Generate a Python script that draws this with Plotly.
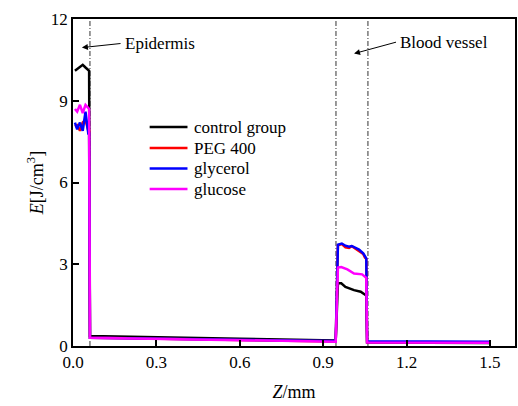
import plotly.graph_objects as go

# ---- data ----
x_ctrl = [0.007, 0.02, 0.035, 0.045, 0.055, 0.058, 0.061, 0.2, 0.4, 0.6, 0.8, 0.945, 0.953,
          0.965, 0.98, 1.011, 1.035, 1.049, 1.055, 1.058, 1.2, 1.35, 1.5]
y_ctrl = [10.1, 10.2, 10.32, 10.22, 10.15, 10.1, 0.37, 0.35, 0.31, 0.27, 0.23, 0.2, 2.3,
          2.3, 2.17, 2.05, 1.99, 1.87, 1.85, 0.13, 0.12, 0.11, 0.11]

x_peg = [0.007, 0.015, 0.025, 0.035, 0.045, 0.055, 0.058, 0.061, 0.2, 0.4, 0.6, 0.8, 0.945, 0.953,
         0.967, 0.98, 0.993, 1.003, 1.029, 1.044, 1.05, 1.055, 1.058, 1.2, 1.35, 1.5]
y_peg = [8.05, 8.1, 7.9, 8.2, 8.3, 7.9, 7.9, 0.3, 0.28, 0.25, 0.22, 0.19, 0.17, 3.7,
         3.74, 3.62, 3.6, 3.66, 3.5, 3.38, 3.25, 3.2, 0.15, 0.15, 0.14, 0.14]

x_gly = [0.007, 0.015, 0.025, 0.035, 0.045, 0.055, 0.058, 0.061, 0.2, 0.4, 0.6, 0.8, 0.945, 0.953,
         0.967, 0.98, 0.993, 1.003, 1.029, 1.044, 1.05, 1.055, 1.058, 1.2, 1.35, 1.5]
y_gly = [8.2, 7.95, 8.2, 7.9, 8.6, 7.8, 7.8, 0.3, 0.28, 0.25, 0.22, 0.19, 0.18, 3.72,
         3.76, 3.68, 3.64, 3.67, 3.54, 3.4, 3.27, 3.22, 0.17, 0.17, 0.16, 0.16]

x_glu = [0.007, 0.015, 0.025, 0.035, 0.045, 0.055, 0.058, 0.061, 0.2, 0.4, 0.6, 0.8, 0.945, 0.953,
         0.965, 0.987, 1.011, 1.04, 1.049, 1.055, 1.058, 1.2, 1.35, 1.5]
y_glu = [8.7, 8.6, 8.85, 8.55, 8.85, 8.75, 8.7, 0.3, 0.28, 0.25, 0.21, 0.18, 0.16, 2.88,
         2.9, 2.81, 2.66, 2.63, 2.54, 2.5, 0.13, 0.13, 0.12, 0.12]

series_names = ["control group", "PEG 400", "glycerol", "glucose"]
series_x = [x_ctrl, x_peg, x_gly, x_glu]
series_y = [y_ctrl, y_peg, y_gly, y_glu]
series_colors = ["#000000", "#ff0000", "#0000ff", "#ff00ff"]

vlines = [0.061, 0.946, 1.061]
x_ticks = [0.0, 0.3, 0.6, 0.9, 1.2, 1.5]
y_ticks = [0, 3, 6, 9, 12]

FONT = "Liberation Serif, Times New Roman, serif"

fig = go.Figure()
for name, xs, ys, col in zip(series_names, series_x, series_y, series_colors):
    fig.add_trace(go.Scatter(x=xs, y=ys, mode="lines", name=name, showlegend=False,
                             line=dict(color=col, width=2.5)))

for xv in vlines:
    fig.add_shape(type="line", xref="x", yref="paper", x0=xv, x1=xv, y0=0, y1=1,
                  line=dict(color="#333333", width=1, dash="5px,2px,1px,2px"), layer="below")

# manual legend (paper coordinates)
PW, PH = 444.0, 327.0
leg_x0 = (150 - 73) / PW
leg_x1 = (188 - 73) / PW
leg_tx = (193 - 73) / PW
leg_y = [(346 - yy) / PH for yy in (127, 148, 168.5, 189)]
for name, col, yy in zip(series_names, series_colors, leg_y):
    fig.add_shape(type="line", xref="paper", yref="paper", x0=leg_x0, x1=leg_x1, y0=yy, y1=yy,
                  line=dict(color=col, width=2.5))
    fig.add_annotation(x=leg_tx, y=yy, xref="paper", yref="paper", text=name,
                       showarrow=False, xanchor="left", yanchor="middle",
                       font=dict(family=FONT, size=17, color="black"))

# labelled arrows (text sits at the arrow tail)
fig.add_annotation(x=0.032, y=10.95, ax=0.171, ay=11.1, axref="x", ayref="y",
                   xref="x", yref="y", text="Epidermis", showarrow=True, arrowhead=2,
                   arrowsize=1.2, arrowwidth=1, arrowcolor="black",
                   xanchor="left", yanchor="middle", borderpad=3,
                   font=dict(family=FONT, size=17, color="black"))
fig.add_annotation(x=1.011, y=10.73, ax=1.162, ay=11.15, axref="x", ayref="y",
                   xref="x", yref="y", text="Blood vessel", showarrow=True, arrowhead=2,
                   arrowsize=1.2, arrowwidth=1, arrowcolor="black",
                   xanchor="left", yanchor="middle", borderpad=3,
                   font=dict(family=FONT, size=17, color="black"))

fig.update_layout(
    width=518, height=406,
    margin=dict(l=73, r=1, t=19, b=60),
    paper_bgcolor="white", plot_bgcolor="white",
    font=dict(family=FONT, size=17, color="black"),
    showlegend=False,
)
fig.update_xaxes(range=[0, 1.59], tickvals=x_ticks, ticktext=[f"{v:.1f}" for v in x_ticks],
                 ticks="inside", ticklen=6, tickwidth=1.5, tickcolor="black",
                 showline=True, linecolor="black", linewidth=1.5, mirror=True,
                 showgrid=False, zeroline=False,
                 tickfont=dict(family=FONT, size=17),
                 title=dict(text="<i>Z</i>/mm", font=dict(family=FONT, size=18), standoff=14))
fig.update_yaxes(range=[0, 12], tickvals=y_ticks,
                 ticks="inside", ticklen=6, tickwidth=1.5, tickcolor="black",
                 showline=True, linecolor="black", linewidth=1.5, mirror=True,
                 showgrid=False, zeroline=False,
                 tickfont=dict(family=FONT, size=17),
                 title=dict(text="<i>E</i>[J/cm<sup>3</sup>]", font=dict(family=FONT, size=18), standoff=3))

fig.write_html("out.html")
